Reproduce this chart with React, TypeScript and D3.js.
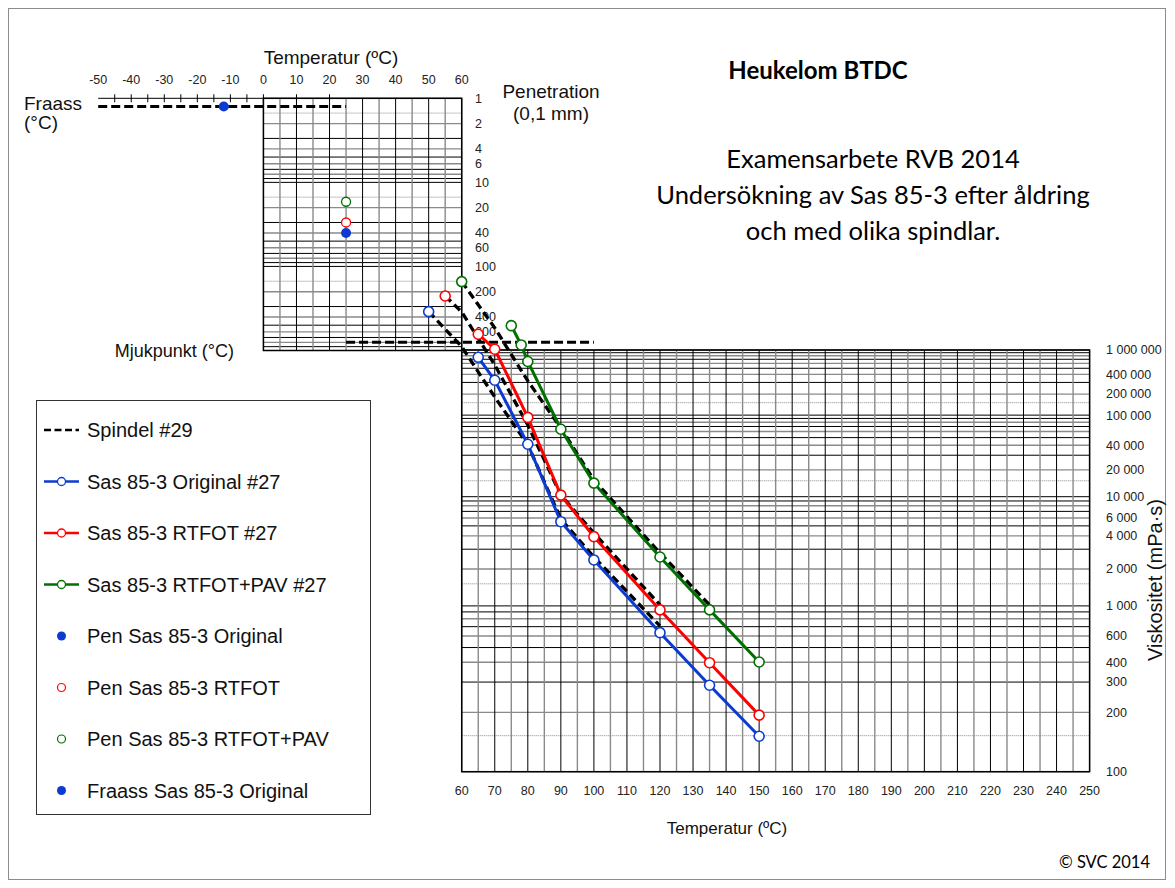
import React from 'react';
import * as d3 from 'd3';

// ---- data ----
const topTempTicks = [-50, -40, -30, -20, -10, 0, 10, 20, 30, 40, 50, 60];
const bottomTempTicks = [60, 70, 80, 90, 100, 110, 120, 130, 140, 150, 160, 170, 180, 190, 200, 210, 220, 230, 240, 250];
const fraassTicks = [-45, -40, -35, -30, -25, -20, -15, -10, -5, 0, 10, 20];
const penLabels = [1, 2, 4, 6, 10, 20, 40, 60, 100, 200, 400, 600];
const viscLabels = [1000000, 400000, 200000, 100000, 40000, 20000, 10000, 6000, 4000, 2000, 1000, 600, 400, 300, 200, 100];
const gridSteps = [1, 1.5, 2, 3, 4, 5, 6, 7, 8, 9];

// Brookfield viscosity (mPa·s), spindle #27 (null = blank cell, breaks the line)
const temps27Orig = [50, 60, 65, 70, 80, 90, 100, 120, 135, 150];
const visc27Orig = [4.9e6, null, 7.55e5, 3.24e5, 4.11e4, 5500, 2400, 634, 287, 149];
const temps27Rtfot = [55, 60, 65, 70, 80, 90, 100, 120, 135, 150];
const visc27Rtfot = [9.9e6, null, 1.88e6, 1.03e6, 9.3e4, 10400, 3930, 932, 397, 193];
const temps27Pav = [60, 70, 75, 78, 80, 90, 100, 120, 135, 150];
const visc27Pav = [1.95e7, null, 2.68e6, 1.22e6, 6.44e5, 64300, 14100, 2550, 932, 401];

// spindle #29
const temps29Orig = [50, 60, 70, 80, 90, 100, 120];
const visc29Orig = [4.9e6, 1.14e6, 1.81e5, 40500, 5850, 2550, 708];
const temps29Rtfot = [55, 60, 70, 80, 90, 100, 120];
const visc29Rtfot = [9.9e6, 4.84e6, 5.65e5, 73300, 10400, 4260, 1018];
const temps29Pav = [60, 70, 80, 90, 100, 120, 135];
const visc29Pav = [1.95e7, 2.44e6, 3.16e5, 66900, 15300, 2770, 1018];

// penetration at 25 °C (0,1 mm) and Fraass (°C)
const penTemp = 25;
const penOrig = 40;
const penRtfot = 30;
const penPav = 17;
const fraassOrig = -12;

// reference lines of the BTDC template: Fraass at pen 1.25, softening point at pen 800
const fraassRefTemps = [-50, 25];
const fraassRefPen = 1.25;
const mjukRefTemps = [25, 100];
const mjukRefPen = 800;

const W = 1175;
const H = 888;
const BLUE = '#0b3bd1';
const RED = '#ff0000';
const GREEN = '#007000';
const ARIAL = '"Liberation Sans", Arial, sans-serif';
const CAL = 'Lato, "Open Sans", sans-serif';

// scales
const x = d3.scaleLinear().domain([-50, 250]).range([98.2, 1089.6]);
const yPen = d3.scaleLog().domain([1, 1000]).range([98.3, 350.5]);
const loglog = (v: number) => Math.log10(Math.log10(v) - 0.5);
const yLL = d3.scaleLinear().domain([loglog(1e6), loglog(100)]).range([350, 771.7]);
const yVisc = (v: number) => yLL(loglog(v));

const spaced = (v: number) => d3.format(',')(v).replace(/,/g, ' ');

type Pt = [number, number | null];
const zip = (t: number[], v: (number | null)[]): Pt[] => t.map((d, i) => [d, v[i]]);

const viscLine = d3
  .line<Pt>()
  .defined((d) => d[1] != null)
  .x((d) => x(d[0]))
  .y((d) => yVisc(d[1] as number));

function decadeGrid(from: number, to: number) {
  const out: { v: number; kind: string }[] = [];
  for (let k = from; k < to; k *= 10) {
    gridSteps.forEach((m) => out.push({ v: m * k, kind: m === 1.5 ? 'dot' : m % 2 === 1 ? 'black' : 'gray' }));
  }
  out.push({ v: to, kind: 'black' });
  return out;
}

const lineStyle = (kind: string) =>
  kind === 'black'
    ? { stroke: '#000', strokeWidth: 1 }
    : kind === 'gray'
    ? { stroke: '#8a8a8a', strokeWidth: 1.4 }
    : { stroke: '#8a8a8a', strokeWidth: 1, strokeDasharray: '1 1' };

const series27 = [
  { pts: zip(temps27Orig, visc27Orig), color: BLUE },
  { pts: zip(temps27Rtfot, visc27Rtfot), color: RED },
  { pts: zip(temps27Pav, visc27Pav), color: GREEN },
];
const series29 = [zip(temps29Orig, visc29Orig), zip(temps29Rtfot, visc29Rtfot), zip(temps29Pav, visc29Pav)];

const legendItems = [
  { label: 'Spindel #29', type: 'dash', color: '#000' },
  { label: 'Sas 85-3 Original #27', type: 'line', color: BLUE },
  { label: 'Sas 85-3 RTFOT #27', type: 'line', color: RED },
  { label: 'Sas 85-3 RTFOT+PAV #27', type: 'line', color: GREEN },
  { label: 'Pen Sas 85-3 Original', type: 'dot', color: BLUE },
  { label: 'Pen Sas 85-3 RTFOT', type: 'ring', color: RED },
  { label: 'Pen Sas 85-3 RTFOT+PAV', type: 'ring', color: GREEN },
  { label: 'Fraass Sas 85-3 Original', type: 'dot', color: BLUE },
];

export default function App() {
  const penGrid = decadeGrid(1, 1000);
  const viscGrid = decadeGrid(100, 1e6);
  const upperV = d3.range(0, 61, 5);
  const lowerV = d3.range(60, 251, 5);

  return (
    <svg width={W} height={H} style={{ position: 'absolute', left: 0, top: 0, background: '#fff' }}>
      <rect x={8.5} y={8.5} width={1157} height={871} fill="#fff" stroke="#8c8c8c" />

      {/* upper grid: penetration */}
      <g>
        {penGrid.map((g, i) => (
          <line key={'ph' + i} x1={x(0)} x2={x(60)} y1={yPen(g.v)} y2={yPen(g.v)} {...lineStyle(g.kind)} />
        ))}
        {upperV.map((t) => (
          <line key={'pv' + t} x1={x(t)} x2={x(t)} y1={yPen(1)} y2={yPen(1000)} {...lineStyle(t % 10 === 0 ? 'black' : 'gray')} />
        ))}
        <rect x={x(0)} y={yPen(1)} width={x(60) - x(0)} height={yPen(1000) - yPen(1)} fill="none" stroke="#000" strokeWidth={1.5} />
      </g>

      {/* lower grid: viscosity */}
      <g>
        {viscGrid.map((g, i) => (
          <line key={'vh' + i} x1={x(60)} x2={x(250)} y1={yVisc(g.v)} y2={yVisc(g.v)} {...lineStyle(g.kind)} />
        ))}
        {lowerV.map((t) => (
          <line key={'vv' + t} x1={x(t)} x2={x(t)} y1={yVisc(1e6)} y2={yVisc(100)} {...lineStyle(t % 10 === 0 ? 'black' : 'gray')} />
        ))}
        <rect x={x(60)} y={yVisc(1e6)} width={x(250) - x(60)} height={yVisc(100) - yVisc(1e6)} fill="none" stroke="#000" strokeWidth={1.5} />
      </g>

      {/* Fraass temperature axis */}
      <line x1={x(-50)} x2={x(0)} y1={yPen(1)} y2={yPen(1)} stroke="#000" strokeWidth={1} />
      {fraassTicks.map((t) => (
        <line key={'ft' + t} x1={x(t)} x2={x(t)} y1={yPen(1) - 4} y2={yPen(1) + 4} stroke="#000" strokeWidth={1} />
      ))}
      {topTempTicks.map((t) => (
        <text key={'tt' + t} x={x(t)} y={84} fontFamily={ARIAL} fontSize={12.5} textAnchor="middle" fill="#222">
          {t}
        </text>
      ))}
      <text x={331} y={64} fontFamily={ARIAL} fontSize={19} textAnchor="middle" fill="#111">Temperatur (ºC)</text>

      {/* penetration labels */}
      {penLabels.map((p) => (
        <text key={'pl' + p} x={475} y={yPen(p)} dy="0.35em" fontFamily={ARIAL} fontSize={12.5} fill="#222">
          {p}
        </text>
      ))}
      <text x={551} y={98} fontFamily={ARIAL} fontSize={19} textAnchor="middle" fill="#111">Penetration</text>
      <text x={551} y={120} fontFamily={ARIAL} fontSize={19} textAnchor="middle" fill="#111">(0,1 mm)</text>

      <text x={24} y={110} fontFamily={ARIAL} fontSize={19} fill="#111">Fraass</text>
      <text x={24} y={129} fontFamily={ARIAL} fontSize={19} fill="#111">(°C)</text>
      <text x={234} y={357} fontFamily={ARIAL} fontSize={18} textAnchor="end" fill="#111">Mjukpunkt (°C)</text>

      {/* viscosity labels */}
      {viscLabels.map((v) => (
        <text key={'vl' + v} x={1106} y={yVisc(v)} dy="0.35em" fontFamily={ARIAL} fontSize={12.5} fill="#222">
          {spaced(v)}
        </text>
      ))}
      <text transform={`translate(1162,580) rotate(-90)`} fontFamily={ARIAL} fontSize={20} textAnchor="middle" fill="#111">
        Viskositet (mPa·s)
      </text>
      {bottomTempTicks.map((t) => (
        <text key={'bt' + t} x={x(t)} y={795} fontFamily={ARIAL} fontSize={12.5} textAnchor="middle" fill="#222">
          {t}
        </text>
      ))}
      <text x={727} y={834} fontFamily={ARIAL} fontSize={17} textAnchor="middle" fill="#111">Temperatur (ºC)</text>

      {/* titles */}
      <text x={818} y={79} fontFamily={CAL} fontSize={24} fontWeight="bold" textAnchor="middle" fill="#000">Heukelom BTDC</text>
      <text x={873} y={168} fontFamily={CAL} fontSize={25.5} textAnchor="middle" fill="#000">Examensarbete RVB 2014</text>
      <text x={873} y={204} fontFamily={CAL} fontSize={25.5} textAnchor="middle" fill="#000">Undersökning av Sas 85-3 efter åldring</text>
      <text x={873} y={240} fontFamily={CAL} fontSize={25.5} textAnchor="middle" fill="#000">och med olika spindlar.</text>
      <text x={1150} y={868} fontFamily={CAL} fontSize={16.5} textAnchor="end" fill="#000">© SVC 2014</text>

      {/* reference lines */}
      <line x1={x(fraassRefTemps[0])} x2={x(fraassRefTemps[1])} y1={yPen(fraassRefPen)} y2={yPen(fraassRefPen)} stroke="#000" strokeWidth={3} strokeDasharray="9 4" />
      <line x1={x(mjukRefTemps[0])} x2={x(mjukRefTemps[1])} y1={yPen(mjukRefPen)} y2={yPen(mjukRefPen)} stroke="#000" strokeWidth={3} strokeDasharray="9 4" />

      {/* spindle #29 */}
      {series29.map((pts, i) => (
        <path key={'s29' + i} d={viscLine(pts) || ''} fill="none" stroke="#000" strokeWidth={3.3} strokeDasharray="8 4.5" />
      ))}

      {/* spindle #27 */}
      {series27.map((s, i) => (
        <g key={'s27' + i}>
          <path d={viscLine(s.pts) || ''} fill="none" stroke={s.color} strokeWidth={3} />
          {s.pts
            .filter((d) => d[1] != null)
            .map((d, j) => (
              <circle key={j} cx={x(d[0])} cy={yVisc(d[1] as number)} r={5} fill="#fff" stroke={s.color} strokeWidth={1.6} />
            ))}
        </g>
      ))}

      {/* penetration and Fraass points */}
      <circle cx={x(penTemp)} cy={yPen(penPav)} r={4.5} fill="#fff" stroke={GREEN} strokeWidth={1.3} />
      <circle cx={x(penTemp)} cy={yPen(penRtfot)} r={4.5} fill="#fff" stroke={RED} strokeWidth={1.3} />
      <circle cx={x(penTemp)} cy={yPen(penOrig)} r={5} fill={BLUE} />
      <circle cx={x(fraassOrig)} cy={yPen(fraassRefPen)} r={5} fill={BLUE} />

      {/* legend */}
      <g>
        <rect x={36.5} y={400.5} width={334} height={414} fill="#fff" stroke="#333" strokeWidth={1} />
        {legendItems.map((it, i) => {
          const cy = 430 + i * 51.5;
          return (
            <g key={'lg' + i}>
              {it.type === 'dash' && <line x1={44} x2={79} y1={cy} y2={cy} stroke="#000" strokeWidth={2.6} strokeDasharray="7 3.5" />}
              {it.type === 'line' && (
                <>
                  <line x1={44} x2={79} y1={cy} y2={cy} stroke={it.color} strokeWidth={2.6} />
                  <circle cx={61.5} cy={cy} r={4} fill="#fff" stroke={it.color} strokeWidth={1.3} />
                </>
              )}
              {it.type === 'dot' && <circle cx={61.5} cy={cy} r={4.5} fill={it.color} />}
              {it.type === 'ring' && <circle cx={61.5} cy={cy} r={4} fill="#fff" stroke={it.color} strokeWidth={1.2} />}
              <text x={87} y={cy} dy="0.35em" fontFamily={ARIAL} fontSize={20} fill="#111">
                {it.label}
              </text>
            </g>
          );
        })}
      </g>
    </svg>
  );
}
